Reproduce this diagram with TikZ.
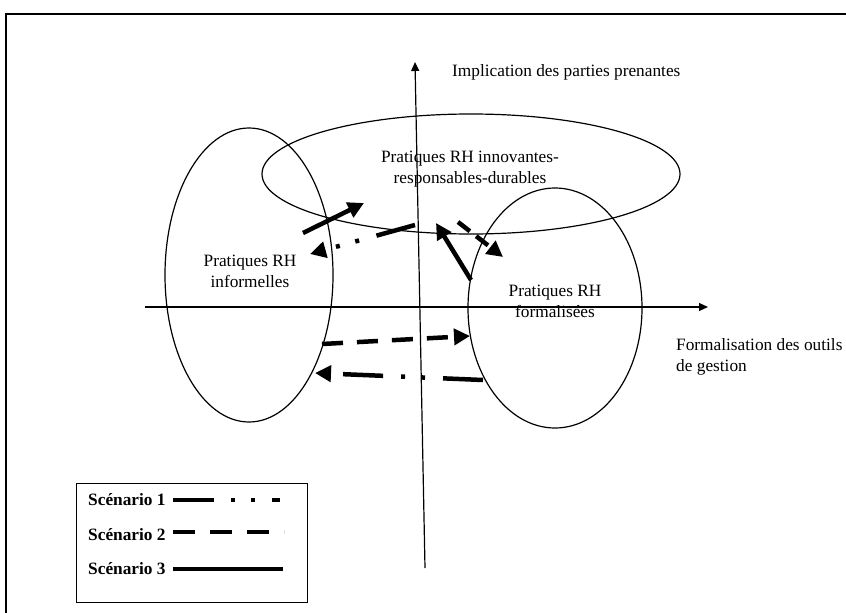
\documentclass[tikz,border=0pt]{standalone}
\usepackage{fontspec}
\setmainfont{Liberation Serif}
\usetikzlibrary{arrows.meta,shapes.geometric}
\begin{document}
\begin{tikzpicture}[x=1pt,y=-1pt,
  lbl/.style={font=\fontsize{17.3}{21}\selectfont, align=center, inner sep=0pt},
  leg/.style={font=\fontsize{17.3}{20}\selectfont\bfseries, inner sep=0pt, anchor=west},
  axis/.style={line width=1.2pt, -{Triangle[length=9pt,width=8pt]}},
  oval/.style={draw, ellipse, line width=1.2pt, inner sep=0pt},
  scbase/.style={line width=4.5pt},
  sc/.style={scbase, -{Triangle[length=16pt,width=16pt]}},
  scone/.style={dash pattern=on 40pt off 18pt on 4pt off 16pt on 4pt off 18pt},
  sctwo/.style={dash pattern=on 21pt off 14pt}
]
\useasboundingbox (0,0) rectangle (846,613);
% frame
\draw[line width=2pt] (6,613) -- (6,14) -- (846,14);

% ovals
\node[oval, minimum width=168pt, minimum height=294pt] (inf) at (249,275) {};
\node[oval, minimum width=418pt, minimum height=120pt] (inn) at (471,174) {};
\node[oval, minimum width=174pt, minimum height=240pt] (form) at (555,308) {};

% axes
\coordinate (vb) at (425,568);
\coordinate (vt) at (415,62);
\coordinate (hl) at (145,307);
\coordinate (hr) at (708,307);
\draw[axis] (vb) -- (vt);
\draw[axis] (hl) -- (hr);

% labels
\node[lbl, anchor=west] (ylab) at (452,72) {Implication des parties prenantes};
\node[lbl, align=left, anchor=north west] (xlab) at (676,338) {Formalisation des outils\\de gestion};
\node[lbl] (tinn) at (470,169) {Pratiques RH innovantes-\\responsables-durables};
\node[lbl] (tinf) at (250,271) {Pratiques RH\\informelles};
\node[lbl] (tform) at (555,301) {Pratiques RH\\formalisées};

% scenario arrows
\coordinate (a1s) at (483,380);
\coordinate (a1e) at (315,373);
\coordinate (b1s) at (415,225);
\coordinate (b1e) at (310,254);
\draw[sc, scone] (a1s) -- (a1e);
\draw[sc, scone] (b1s) -- (b1e);

\coordinate (a2s) at (322,344);
\coordinate (a2e) at (470,336);
\coordinate (b2s) at (458,222);
\coordinate (b2e) at (503,257);
\draw[sc, sctwo] (a2s) -- (a2e);
\draw[sc, dash pattern=on 15pt off 8pt] (b2s) -- (b2e);

\coordinate (a3s) at (303,233);
\coordinate (a3e) at (364,203);
\coordinate (b3s) at (471,280);
\coordinate (b3e) at (436,223);
\draw[sc] (a3s) -- (a3e);
\draw[sc] (b3s) -- (b3e);

% legend
\node[draw, line width=1.2pt, minimum width=231pt, minimum height=119pt, inner sep=0pt, anchor=north west] (legbox) at (76,483) {};
\node[leg] (l1) at (88,500) {Scénario 1};
\node[leg] (l2) at (88,535) {Scénario 2};
\node[leg] (l3) at (88,569) {Scénario 3};
\coordinate (l1s) at (173,500);
\coordinate (l1e) at (280,500);
\coordinate (l2s) at (173,532);
\coordinate (l2e) at (284,532);
\coordinate (l3s) at (173,569);
\coordinate (l3e) at (283,569);
\draw[scbase, dash pattern=on 41pt off 17pt on 4pt off 16pt on 4pt off 17pt] (l1s) -- (l1e);
\draw[scbase, dash pattern=on 22pt off 15pt] (l2s) -- (l2e);
\draw[scbase] (l3s) -- (l3e);
\end{tikzpicture}
\end{document}
